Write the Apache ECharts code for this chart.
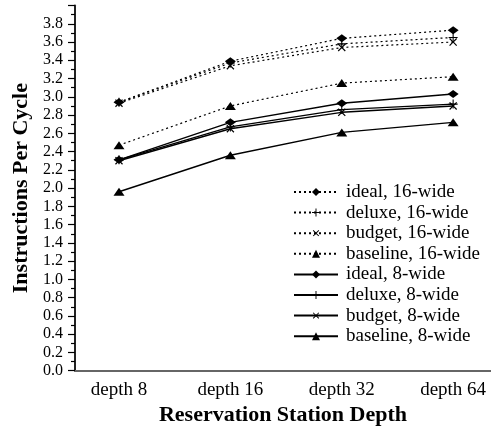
<!DOCTYPE html>
<html><head><meta charset="utf-8">
<script src="https://cdn.jsdelivr.net/npm/echarts@6/dist/echarts.min.js"></script>
<style>html,body{margin:0;padding:0;background:#fff}#c{width:491px;height:432px}</style>
</head><body><div id="c"></div>
<script>
const categories = ['depth 8', 'depth 16', 'depth 32', 'depth 64'];
const seriesNames = ['ideal, 16-wide', 'deluxe, 16-wide', 'budget, 16-wide', 'baseline, 16-wide',
                     'ideal, 8-wide', 'deluxe, 8-wide', 'budget, 8-wide', 'baseline, 8-wide'];
const ideal16    = [2.94, 3.39, 3.64, 3.73];
const deluxe16   = [2.94, 3.37, 3.58, 3.65];
const budget16   = [2.93, 3.34, 3.54, 3.60];
const baseline16 = [2.47, 2.90, 3.15, 3.22];
const ideal8     = [2.31, 2.72, 2.93, 3.03];
const deluxe8    = [2.31, 2.67, 2.86, 2.92];
const budget8    = [2.30, 2.65, 2.83, 2.90];
const baseline8  = [1.96, 2.36, 2.61, 2.72];
const values = [ideal16, deluxe16, budget16, baseline16, ideal8, deluxe8, budget8, baseline8];

const PLUS = 'path://M4.4,0H5.6V4.4H10V5.6H5.6V10H4.4V5.6H0V4.4H4.4Z';
const markers = [
  {symbol: 'diamond', size: [11, 8], rot: 0},
  {symbol: PLUS, size: 9, rot: 0},
  {symbol: PLUS, size: 10, rot: 45},
  {symbol: 'triangle', size: [11, 8], rot: 0}
];
const FONT = '"Liberation Serif", "Times New Roman", serif';

const series = values.map((vals, i) => {
  const m = markers[i % 4];
  const dotted = i < 4;
  return {
    name: seriesNames[i],
    type: 'line',
    data: vals.map((v, k) => [k, v]),
    symbol: m.symbol,
    symbolSize: m.size,
    symbolRotate: m.rot,
    showAllSymbol: true,
    itemStyle: {color: '#000'},
    lineStyle: {color: '#000', width: dotted ? 1.2 : 1.4, type: dotted ? [2, 3] : 'solid'},
    emphasis: {disabled: true},
    animation: false
  };
});

const chart = echarts.init(document.getElementById('c'), null, {renderer: 'canvas'});
chart.setOption({
  animation: false,
  backgroundColor: '#fff',
  grid: {left: 75, right: 0, top: 5.5, bottom: 61.3, containLabel: false},
  legend: {
    left: 293, top: 182, orient: 'vertical', padding: 0,
    itemWidth: 44, itemHeight: 10, itemGap: 0.6,
    data: seriesNames,
    textStyle: {fontFamily: FONT, fontSize: 19, color: '#000', lineHeight: 20, padding: [0, 0, 0, 3]},
    selectedMode: false
  },
  xAxis: {
    type: 'value', min: -0.395, max: 3.34,
    name: 'Reservation Station Depth', nameLocation: 'middle', nameGap: 34,
    nameTextStyle: {fontFamily: FONT, fontSize: 22, fontWeight: 'bold', color: '#000'},
    axisLine: {show: true, onZero: false, lineStyle: {color: '#666', width: 2}},
    axisTick: {show: false},
    splitLine: {show: false},
    axisLabel: {
      customValues: [0, 1, 2, 3],
      formatter: v => categories[Math.round(v)] || '',
      fontFamily: FONT, fontSize: 19, color: '#000', margin: 10
    }
  },
  yAxis: {
    type: 'value', min: 0, max: 4, interval: 0.2,
    name: 'Instructions Per Cycle', nameLocation: 'middle', nameGap: 42, nameRotate: 90,
    nameTextStyle: {fontFamily: FONT, fontSize: 22, fontWeight: 'bold', color: '#000'},
    axisLine: {show: true, onZero: false, lineStyle: {color: '#222', width: 2}},
    axisTick: {show: true, inside: false, length: 7, lineStyle: {color: '#000', width: 1.2}},
    minorTick: {show: true, splitNumber: 2, length: 4, lineStyle: {color: '#000', width: 1.2}},
    splitLine: {show: false},
    axisLabel: {
      showMaxLabel: false,
      formatter: v => v.toFixed(1),
      fontFamily: FONT, fontSize: 16, color: '#000', margin: 12
    }
  },
  series: series
});
</script>
</body></html>
